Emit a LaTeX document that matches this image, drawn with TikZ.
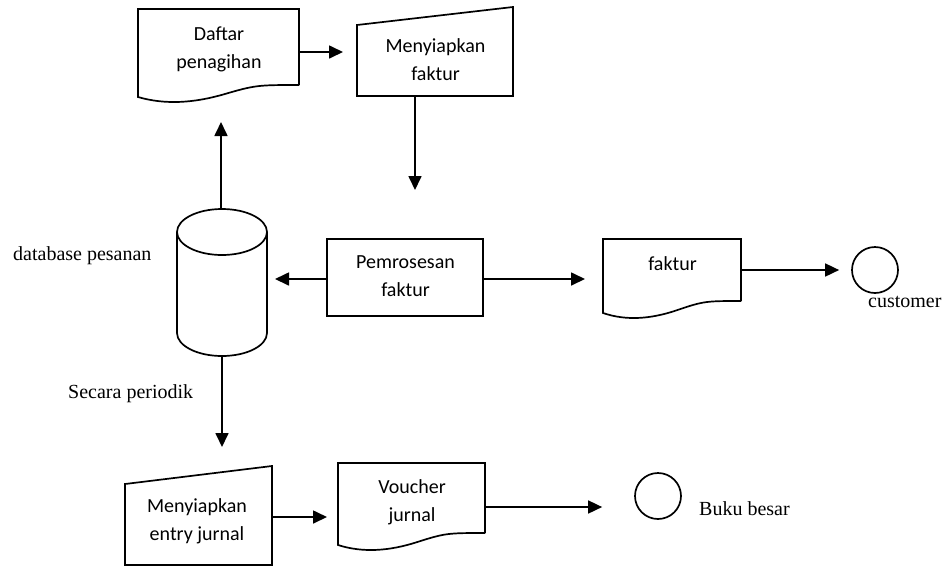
\documentclass[tikz,border=0pt]{standalone}
\usepackage{fontspec}
\setmainfont{Liberation Serif}
\newfontfamily\boxfont{Carlito}
\usetikzlibrary{arrows.meta,calc}

% document symbol: straight top and sides, wavy bottom edge
\newcommand\docshape[1]{%
  \draw[outline] (#1.south east) -- (#1.north east) -- (#1.north west)
    -- ($(#1.south west)+(0,12)$)
    .. controls ($(#1.south west)!0.17!(#1.south east)+(0,20)$)
           and ($(#1.south west)!0.35!(#1.south east)+(0,18)$)
    .. ($(#1.south west)!0.54!(#1.south east)+(0,9)$)
    .. controls ($(#1.south west)!0.73!(#1.south east)+(0,0)$)
           and ($(#1.south west)!0.75!(#1.south east)+(0,0)$)
    .. (#1.south east);}

% manual input symbol: sloping top edge
\newcommand\manualshape[1]{%
  \draw[outline] (#1.south west) -- (#1.north west)
    -- ($(#1.north east)+(0,-18)$) -- (#1.south east) -- cycle;}

\begin{document}
\begin{tikzpicture}[x=1pt,y=-1pt,
  outline/.style={line width=1.7pt,line join=miter},
  shapebox/.style={draw=none,inner sep=0pt,outer sep=0pt},
  flow/.style={line width=1.7pt,-{Triangle[length=14pt,width=13pt]}},
  boxtext/.style={font=\boxfont\fontsize{20}{28}\selectfont,align=center,inner sep=0pt},
  plaintext/.style={font=\fontsize{20}{24}\selectfont,inner sep=0pt,anchor=base west},
  terminal/.style={circle,draw,line width=1.7pt,minimum size=46pt,inner sep=0pt}]
\useasboundingbox (0,0) rectangle (945,566);

% ---- shapes ----
\node[shapebox,minimum width=161pt,minimum height=76pt] (daftar) at (218.5,47) {};
\docshape{daftar}
\node[boxtext] (daftartxt) at (219,49) {Daftar\\penagihan};

\node[shapebox,minimum width=156pt,minimum height=71pt] (mf) at (435,60.5) {};
\manualshape{mf}
\node[boxtext] (mftxt) at (435.5,60) {Menyiapkan\\faktur};

\node[shapebox,minimum width=90pt,minimum height=147pt] (db) at (222,282.5) {};
\draw[outline] ($(db.north)+(0,23)$) ellipse [x radius=45,y radius=23];
\draw[outline] ($(db.north west)+(0,23)$) -- ($(db.south west)+(0,-23)$)
  arc[start angle=180,end angle=0,x radius=45,y radius=23]
  -- ($(db.north east)+(0,23)$);
\node[plaintext] (dblabel) at (13,260) {database pesanan};

\node[draw,outline,minimum width=156pt,minimum height=77pt,inner sep=0pt] (pf) at (405,277.5) {};
\node[boxtext] (pftxt) at (405.5,276.5) {Pemrosesan\\faktur};

\node[shapebox,minimum width=138pt,minimum height=62pt] (fk) at (672,270) {};
\docshape{fk}
\node[boxtext,anchor=base] (fktxt) at (672.5,270) {faktur};

\node[terminal] (cust) at (875,270) {};
\node[plaintext] (custlabel) at (868,307) {customer};

\node[plaintext] (periodlabel) at (68,398) {Secara periodik};

\node[shapebox,minimum width=147pt,minimum height=81pt] (mej) at (198.5,524.5) {};
\manualshape{mej}
\node[boxtext] (mejtxt) at (197,521) {Menyiapkan\\entry jurnal};

\node[shapebox,minimum width=147pt,minimum height=70pt] (vj) at (411.5,498) {};
\docshape{vj}
\node[boxtext] (vjtxt) at (412,502) {Voucher\\jurnal};

\node[terminal] (bb) at (658,496) {};
\node[plaintext] (bblabel) at (699,515) {Buku besar};

% ---- connectors ----
\coordinate (mfout) at (415,190);
\draw[flow,shorten >=14pt] ($(daftar.east)+(0,5)$) -- ($(mf.west)+(0,-8.5)$);
\draw[flow] ($(mf.south)+(-20,0)$) -- (mfout);
\draw[flow,shorten >=37pt] ($(db.north)+(-1,0)$) -- ($(daftar.south)+(2.5,0)$);
\draw[flow,shorten >=8pt] ($(pf.west)+(0,1.5)$) -- ($(db.east |- pf.west)+(0,1.5)$);
\draw[flow,shorten >=18pt] ($(pf.east)+(0,1.5)$) -- ($(fk.west |- pf.east)+(0,1.5)$);
\draw[flow,shorten >=12pt] (fk.east) -- (cust.west);
\draw[flow,shorten >=37pt] (db.south) -- (db.south |- mej.north);
\draw[flow,shorten >=11pt] ($(mej.east)+(0,-7.5)$) -- ($(vj.west |- mej.east)+(0,-7.5)$);
\draw[flow,shorten >=32pt] ($(vj.east)+(0,9)$) -- ($(bb.west |- vj.east)+(0,9)$);
\end{tikzpicture}
\end{document}
